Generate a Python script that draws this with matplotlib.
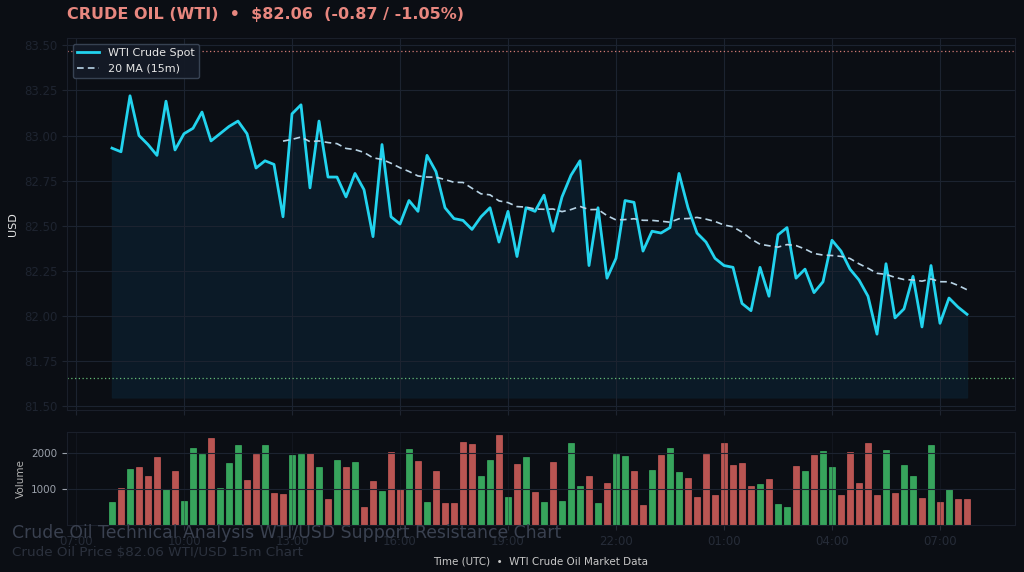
import numpy as np
import pandas as pd
import matplotlib
matplotlib.use("Agg")
import matplotlib.pyplot as plt
import matplotlib.dates as mdates

price = [82.93, 82.91, 83.22, 83.00, 82.95, 82.89, 83.19, 82.92, 83.01, 83.04,
         83.13, 82.97, 83.01, 83.05, 83.08, 83.01, 82.82, 82.86, 82.84, 82.55,
         83.12, 83.17, 82.71, 83.08, 82.77, 82.77, 82.66, 82.79, 82.70, 82.44,
         82.95, 82.55, 82.51, 82.64, 82.58, 82.89, 82.80, 82.60, 82.54, 82.53,
         82.48, 82.55, 82.60, 82.41, 82.58, 82.33, 82.60, 82.58, 82.67, 82.47,
         82.66, 82.78, 82.86, 82.28, 82.60, 82.21, 82.32, 82.64, 82.63, 82.36,
         82.47, 82.46, 82.49, 82.79, 82.60, 82.46, 82.41, 82.32, 82.28, 82.27,
         82.07, 82.03, 82.27, 82.11, 82.45, 82.49, 82.21, 82.26, 82.13, 82.19,
         82.42, 82.36, 82.26, 82.20, 82.11, 81.90, 82.29, 81.99, 82.04, 82.22,
         81.94, 82.28, 81.96, 82.10, 82.05, 82.01]
volume = [651, 1023, 1563, 1628, 1367, 1888, 995, 1498, 670, 2158,
          1972, 2437, 1023, 1730, 2233, 1256, 1991, 2233, 884, 865,
          1953, 1972, 2009, 1628, 726, 1805, 1619, 1749, 512, 1237,
          949, 2047, 1014, 2121, 1786, 651, 1498, 614, 614, 2316,
          2251, 1367, 1814, 2512, 791, 1702, 1888, 912, 633, 1749,
          679, 2298, 1098, 1367, 605, 1172, 1991, 1935, 1498, 567,
          1526, 1963, 2140, 1488, 1302, 772, 1991, 847, 2279, 1665,
          1730, 1098, 1144, 1284, 586, 512, 1637, 1507, 1953, 2056,
          1609, 828, 2037, 1172, 2288, 837, 2093, 893, 1674, 1358,
          753, 2233, 642, 995, 726, 720]
resistance = 83.47
support = 81.655
start_time = "2024-01-01 08:00"

n = len(price)
times = pd.date_range(start_time, periods=n, freq="15min")
s = pd.Series(price, index=times)
ma = s.rolling(20).mean()
diff = s.diff().fillna(1.0).values
colors = ["#3fbf6a" if d >= 0 else "#d9625e" for d in diff]

BG = "#0b0e14"
GRID = "#1c2330"
fig = plt.figure(figsize=(10.24, 5.72), dpi=100, facecolor=BG)
ax = fig.add_axes([67/1024, (572-410)/572, (1015-67)/1024, (410-38)/572], facecolor=BG)
axv = fig.add_axes([67/1024, (572-525)/572, (1015-67)/1024, (525-432)/572], facecolor=BG, sharex=ax)

ax.fill_between(times, price, 81.55, color="#0c1c2a", alpha=0.9, zorder=1)
ax.plot(times, price, color="#22d3ee", lw=2, label="WTI Crude Spot", zorder=3)
ax.plot(times, ma, color="#b8d4e6", lw=1.2, ls=(0, (4, 2.5)), label="20 MA (15m)", zorder=3)
ax.axhline(resistance, color="#e8877f", ls=(0, (1, 2)), lw=0.9, alpha=0.9)
ax.axhline(support, color="#6fcf7f", ls=(0, (1, 2)), lw=0.9, alpha=0.9)
ax.set_ylim(81.48, 83.54)
ax.set_yticks([81.5, 81.75, 82.0, 82.25, 82.5, 82.75, 83.0, 83.25, 83.5])
ax.yaxis.set_major_formatter(matplotlib.ticker.FormatStrFormatter("%.2f"))
ax.set_ylabel("USD", color="#e6e6e6", fontsize=8)
ax.tick_params(axis="y", colors="#1e2430", labelcolor="#1e2430", labelsize=8.5)
ax.tick_params(axis="x", labelbottom=False, colors="#1e2430")
ax.grid(True, color=GRID, lw=0.8)
leg = ax.legend(loc="upper left", fontsize=8, facecolor="#141a26", edgecolor="#3a4556",
                labelcolor="#e6e6e6", framealpha=0.95)

width = 15 / (24 * 60) * 0.75
axv.bar(times, volume, width=width, color=colors, alpha=0.85, edgecolor=colors, lw=0.5)
axv.set_ylim(0, 2600)
axv.set_yticks([1000, 2000])
axv.set_ylabel("Volume", color="#b0b0b0", fontsize=7.5)
axv.tick_params(axis="y", colors="#9aa0aa", labelsize=7.5)
axv.tick_params(axis="x", colors="#262c38", labelcolor="#262c38", labelsize=8.5)
axv.grid(True, axis="y", color=GRID, lw=0.8)
axv.grid(True, axis="x", color=GRID, lw=0.6, alpha=0.5)
axv.xaxis.set_major_locator(mdates.HourLocator(byhour=[1, 4, 7, 10, 13, 16, 19, 22]))
axv.xaxis.set_major_formatter(mdates.DateFormatter("%H:%M"))
axv.set_xlim(pd.Timestamp("2024-01-01 06:45"), pd.Timestamp("2024-01-02 09:05"))
axv.set_xlabel("Time (UTC)  •  WTI Crude Oil Market Data", color="#c8c8c8", fontsize=7.5, labelpad=6)

for a in (ax, axv):
    for sp in a.spines.values():
        sp.set_color("#1a1f2a")

fig.text(67/1024, 1 - 15/572, "CRUDE OIL (WTI)  •  $82.06  (-0.87 / -1.05%)", color="#e8877f",
         fontsize=11.5, fontweight="bold", va="center")
fig.text(12/1024, 1 - 533/572, "Crude Oil Technical Analysis WTI/USD Support Resistance Chart",
         color="#3a4150", fontsize=12.4, va="center")
fig.text(12/1024, 1 - 552/572, "Crude Oil Price $82.06 WTI/USD 15m Chart",
         color="#2b313d", fontsize=9.7, va="center")

fig.savefig("out.png", dpi=100, facecolor=BG)
